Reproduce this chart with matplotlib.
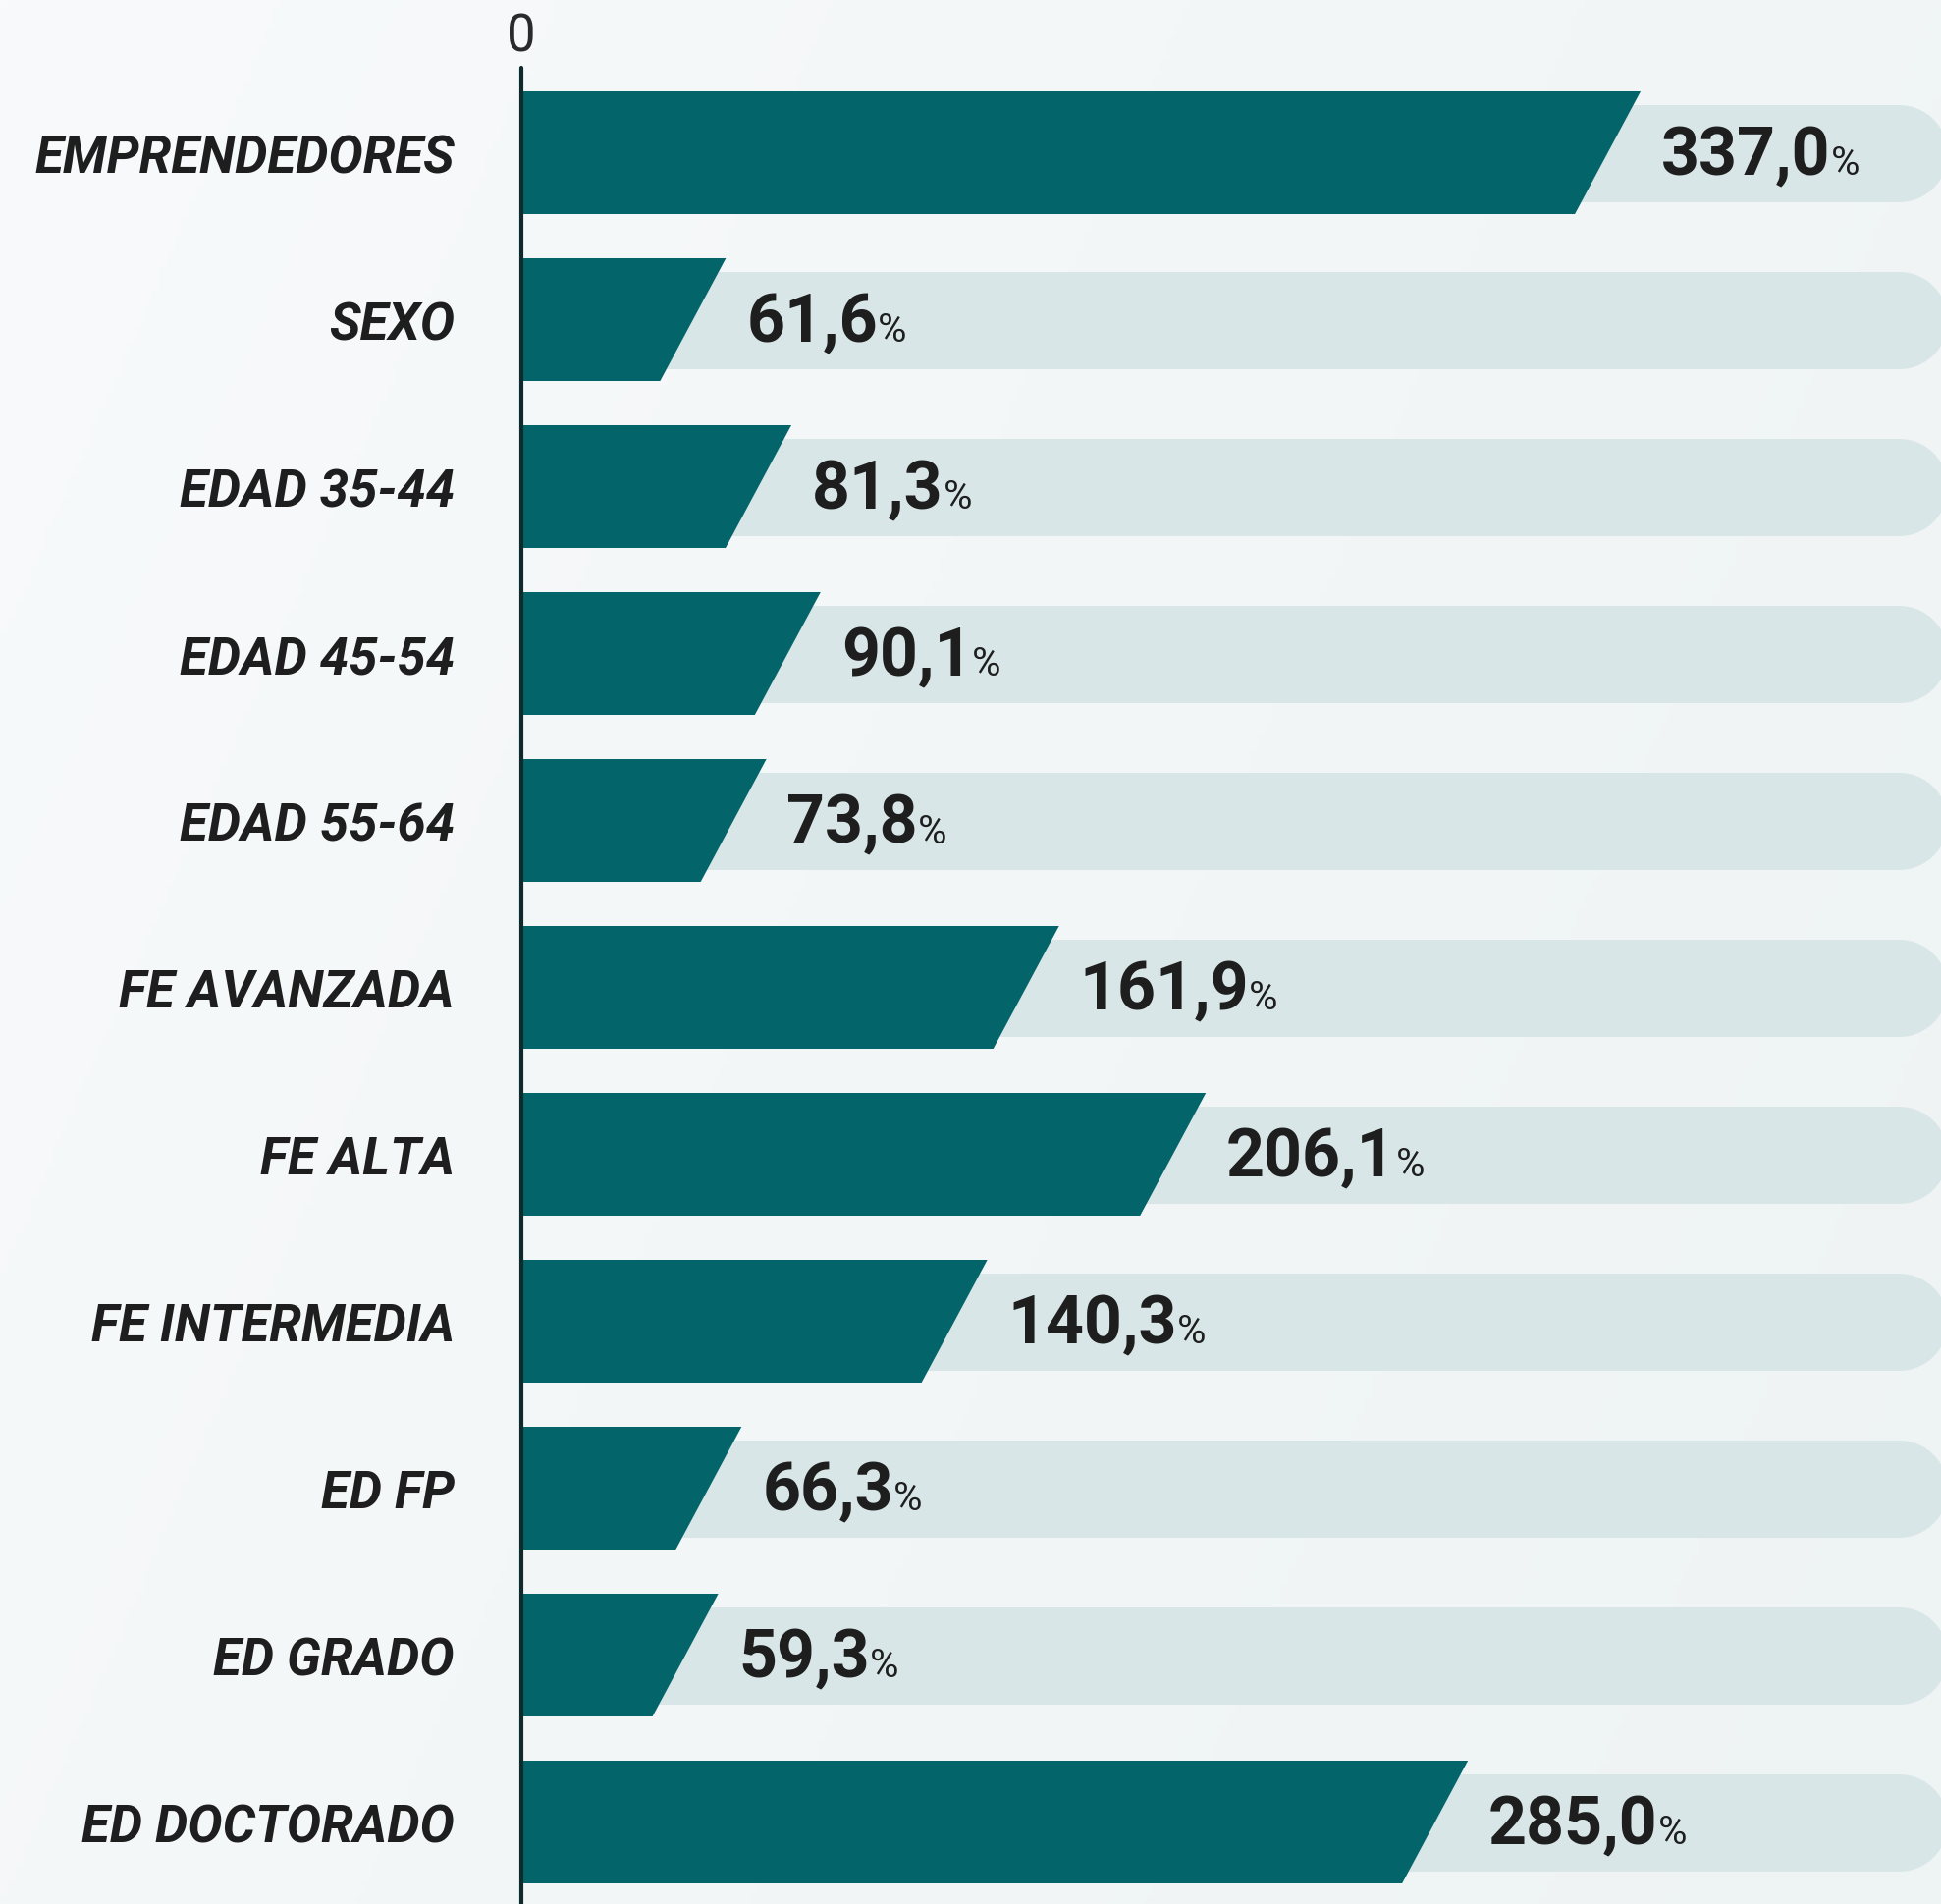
import numpy as np
import matplotlib
matplotlib.use("Agg")
import matplotlib.pyplot as plt
from matplotlib.patches import Polygon

categories = ["EMPRENDEDORES", "SEXO", "EDAD 35-44", "EDAD 45-54", "EDAD 55-64",
              "FE AVANZADA", "FE ALTA", "FE INTERMEDIA", "ED FP", "ED GRADO",
              "ED DOCTORADO"]
values = [337.0, 61.6, 81.3, 90.1, 73.8, 161.9, 206.1, 140.3, 66.3, 59.3, 285.0]
zero_label = "0"

W, H = 1977, 1940
DPI = 100
BAR_COLOR = "#03646a"
BAND_COLOR = "#d8e6e7"
TEXT_COLOR = "#1e1e1e"
FONT = ["Roboto", "DejaVu Sans"]

fig = plt.figure(figsize=(W / DPI, H / DPI), dpi=DPI)

# background gradient
bg = fig.add_axes([0, 0, 1, 1], zorder=-10)
gx = np.linspace(0, 1, 256)
gy = np.linspace(0, 1, 256)
GX, GY = np.meshgrid(gx, gy)
t = np.clip(0.7 * GX + 0.3 * GY, 0, 1)
c0 = np.array([0xf8, 0xfa, 0xfb]) / 255
c1 = np.array([0xee, 0xf3, 0xf4]) / 255
img = c0[None, None, :] * (1 - t[..., None]) + c1[None, None, :] * t[..., None]
bg.imshow(img, extent=[0, 1, 0, 1], aspect="auto", origin="upper")
bg.axis("off")

left = 531 / W
ax = fig.add_axes([left, 0, 1 - left, 1])
ax.set_facecolor("none")
px_per_unit = 3.383
xmax = (W - 531) / px_per_unit
row_px = 170.0
first_px = 156.5
ax.set_xlim(0, xmax)
ax.set_ylim((H - first_px) / row_px, (0 - first_px) / row_px)

n = len(categories)
ypos = np.arange(n)
bar_h = 125 / row_px
slant = 67 / px_per_unit
band_lw = 99 * 72 / DPI
cap_r = 49.5 / px_per_unit

for y, v in zip(ypos, values):
    # background band (pill end on right)
    ax.plot([20, xmax - cap_r + 2], [y, y], color=BAND_COLOR, lw=band_lw,
            solid_capstyle="round", zorder=1)
    # slanted bar
    poly = Polygon([(0, y - bar_h / 2), (v, y - bar_h / 2),
                    (v - slant, y + bar_h / 2), (0, y + bar_h / 2)],
                   closed=True, facecolor=BAR_COLOR, edgecolor="none", zorder=2)
    ax.add_patch(poly)
    label = f"{v:.1f}".replace(".", ",")
    base_y = y + 22 / row_px
    num = ax.annotate(label, xy=(v, base_y), xytext=(15, 0), textcoords="offset points",
                      ha="left", va="baseline", fontsize=49, fontweight="bold",
                      family=FONT, color=TEXT_COLOR, zorder=4)
    ax.annotate("%", xy=(1.0, base_y), xycoords=(num, "data"), xytext=(0, 0),
                textcoords="offset points", ha="left", va="baseline",
                fontsize=29, fontweight="normal", family=FONT,
                color=TEXT_COLOR, zorder=4)

# axis line
ax.plot([0, 0], [(70 - first_px) / row_px, (H + 10 - first_px) / row_px],
        color="#0d2a2d", lw=3.0, solid_capstyle="round", zorder=5, clip_on=False)
ax.text(0, (38 - first_px) / row_px, zero_label, ha="center", va="center",
        fontsize=38, fontweight="normal", family=FONT, color="#2a2a2a")

ax.set_yticks(ypos)
ax.set_yticklabels(categories, fontsize=38, fontweight="bold", fontstyle="italic",
                   family=FONT, color=TEXT_COLOR)
ax.tick_params(axis="y", length=0, pad=49)
ax.set_xticks([])
for s in ax.spines.values():
    s.set_visible(False)

fig.savefig("out.png", dpi=DPI)
